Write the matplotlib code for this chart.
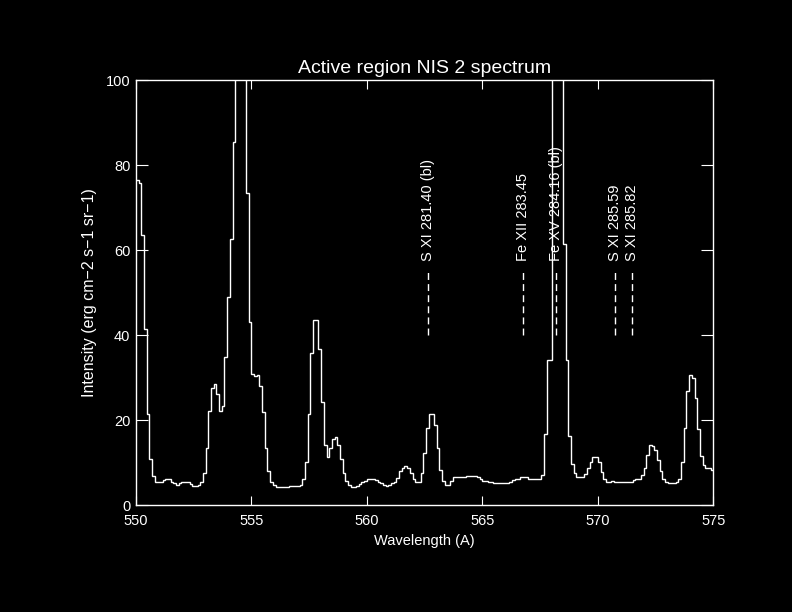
import matplotlib
matplotlib.use("Agg")
import matplotlib.pyplot as plt
import numpy as np
from matplotlib.ticker import MultipleLocator

# spectrum: regular wavelength grid, one intensity per bin
wave_start = 550.0
bin_width = 25.0 / 215
intensity = [
    76.5, 75.8, 63.6, 41.6, 21.4, 10.8, 6.9, 5.6, 5.6, 5.6,
    5.9, 6.3, 6.1, 5.6, 5.2, 4.9, 5.2, 5.6, 5.6, 5.4,
    5.0, 4.6, 4.5, 4.8, 5.4, 7.7, 13.6, 22.1, 27.5, 28.5,
    26.3, 22.1, 23.3, 34.9, 48.9, 62.6, 85.4, 140, 210, 190,
    125, 73.4, 43.1, 30.9, 30.4, 30.6, 28.1, 21.9, 13.6, 8.1,
    5.5, 4.8, 4.2, 4.2, 4.2, 4.2, 4.2, 4.5, 4.5, 4.5,
    4.5, 4.7, 6.1, 10.3, 21.6, 35.8, 43.5, 43.5, 36.7, 24.4,
    14.1, 11.3, 13.6, 15.6, 16.0, 14.1, 10.8, 7.5, 5.7, 4.7,
    4.4, 4.4, 4.6, 5.0, 5.4, 5.8, 6.1, 6.1, 6.1, 5.9,
    5.5, 5.2, 4.7, 4.5, 4.7, 5.2, 5.6, 6.5, 8.1, 8.9,
    9.2, 8.8, 7.6, 6.2, 5.4, 5.4, 7.7, 12.4, 18.3, 21.6,
    21.6, 18.8, 13.4, 8.2, 5.8, 4.9, 4.9, 5.8, 6.6, 6.6,
    6.7, 6.7, 6.7, 6.8, 7.0, 7.0, 7.0, 6.7, 6.1, 5.8,
    5.8, 5.6, 5.6, 5.2, 5.2, 5.2, 5.2, 5.2, 5.2, 5.6,
    6.0, 6.3, 6.3, 6.6, 6.6, 6.6, 6.3, 6.3, 6.1, 6.1,
    6.1, 7.1, 16.8, 34.2, 34.2, 260, 310, 250, 140, 61.6,
    34.2, 16.3, 9.7, 7.5, 6.7, 6.7, 6.7, 7.4, 8.7, 10.1,
    11.3, 11.3, 10.1, 7.9, 6.3, 5.4, 5.4, 5.7, 5.6, 5.6,
    5.6, 5.6, 5.6, 5.6, 5.6, 5.95, 6.3, 6.3, 7.1, 8.7,
    11.8, 14.3, 14.0, 13.0, 10.7, 8.1, 6.1, 5.5, 5.2, 5.2,
    5.2, 5.5, 6.3, 10.3, 18.3, 26.9, 30.7, 29.9, 25.2, 17.9,
    11.6, 9.5, 8.9, 8.9, 8.2,
]

# identified lines (second order positions)
line_waves = [562.66, 566.75, 568.18, 570.74, 571.49]
line_labels = ["S XI 281.40 (bl)", "Fe XII 283.45", "Fe XV 284.16 (bl)",
               "S XI 285.59", "S XI 285.82"]

plt.rcParams["font.family"] = ["Liberation Sans", "DejaVu Sans"]
fg = "white"

fig = plt.figure(figsize=(7.92, 6.12), dpi=100, facecolor="black")
ax = fig.add_axes([0.1715, 0.1743, 0.7292, 0.6945], facecolor="black")

edges = wave_start + bin_width * np.arange(len(intensity) + 1)
ax.stairs(intensity, edges, baseline=None, color=fg, lw=1.0)

for w, lab in zip(line_waves, line_labels):
    ax.plot([w, w], [40, 55.5], color=fg, lw=1.0, ls=(0, (5, 3)))
    ax.text(w, 57.5, lab, rotation=90, ha="center", va="bottom",
            color=fg, fontsize=10.5)

ax.set_xlim(550, 575)
ax.set_ylim(0, 100)
ax.xaxis.set_major_locator(MultipleLocator(5))
ax.xaxis.set_minor_locator(MultipleLocator(1))
ax.yaxis.set_major_locator(MultipleLocator(20))
ax.yaxis.set_minor_locator(MultipleLocator(5))

for s in ax.spines.values():
    s.set_color(fg)
    s.set_linewidth(1.0)
ax.tick_params(colors=fg, direction="in", top=True, right=True, labelsize=10.5, width=0.8)
ax.tick_params(axis="x", which="major", length=6.5, pad=6.5)
ax.tick_params(axis="x", which="minor", length=3.2, top=True)
ax.tick_params(axis="y", which="major", length=8.5, pad=4)
ax.tick_params(axis="y", which="minor", length=4.2, right=True)

ax.set_title("Active region NIS 2 spectrum", color=fg, fontsize=14, pad=5)
ax.set_xlabel("Wavelength (A)", color=fg, fontsize=10.5, labelpad=4)
ax.set_ylabel("Intensity (erg cm\u22122 s\u22121 sr\u22121)", color=fg, fontsize=11.5, labelpad=6)

fig.savefig("out.png", dpi=100, facecolor="black")
plt.close()
